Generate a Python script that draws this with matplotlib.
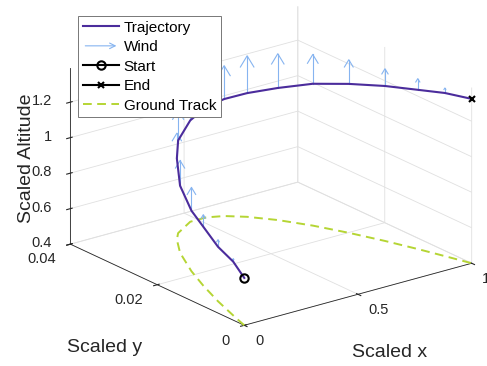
import matplotlib
matplotlib.use("Agg")
import matplotlib.pyplot as plt
import numpy as np
from matplotlib.lines import Line2D
from matplotlib.patches import FancyArrowPatch, Patch
from matplotlib.legend_handler import HandlerPatch
from matplotlib.ticker import FuncFormatter

plt.rcParams['font.family'] = ['Liberation Sans', 'DejaVu Sans']
plt.rcParams['grid.color'] = '#e0e0e0'
plt.rcParams['grid.linewidth'] = 0.6

# trajectory samples in scaled units
x_traj = [0.0, 0.028, 0.070, 0.122, 0.175, 0.253, 0.323, 0.365, 0.466, 0.536,
          0.594, 0.653, 0.719, 0.783, 0.840, 0.892, 0.935, 0.968, 1.0]
y_traj = [0.0, 0.0040, 0.0097, 0.0158, 0.0213, 0.0280, 0.0324, 0.0343, 0.0368, 0.0368,
          0.0357, 0.0335, 0.0299, 0.0252, 0.0199, 0.0143, 0.0090, 0.0045, 0.0]
z_traj = [0.667, 0.703, 0.707, 0.732, 0.741, 0.778, 0.857, 0.922, 0.971, 1.021,
          1.059, 1.097, 1.144, 1.199, 1.239, 1.273, 1.297, 1.319, 1.326]
# vertical wind component at each sample
wind_w = [0.0, 0.017, 0.040, 0.068, 0.131, 0.142, 0.142, 0.170, 0.182, 0.188,
          0.188, 0.210, 0.193, 0.165, 0.136, 0.097, 0.063, 0.028, 0.0]
ground_z = 0.4

x_ticks = [0, 0.5, 1]
y_ticks = [0, 0.02, 0.04]
z_ticks = [0.4, 0.6, 0.8, 1.0, 1.2]

traj_color = '#4b2c9c'
wind_color = '#86b4f0'
ground_color = '#b5d534'
ink = '#262626'

fig = plt.figure(figsize=(4.87, 3.66), dpi=100)
# square 3D axes, larger than the figure so nothing gets clipped
ax = fig.add_axes([0.043, -0.1364, 1.0, 1.3306], projection='3d', computed_zorder=False)
ax.set_proj_type('ortho')
ax.view_init(elev=20.9, azim=-127.4)
ax.set_box_aspect((1, 1, 0.657), zoom=0.89)

ax.set_xlim(0, 1)
ax.set_ylim(0, 0.04)
ax.set_zlim(0.4, 1.39)

# ground track projected on the floor
ax.plot(x_traj, y_traj, [ground_z] * len(x_traj), '--', color=ground_color,
        lw=1.4, dashes=(4.5, 2.8), zorder=1)

# wind arrows: shaft plus two head wings
head_dir = np.array([1.0, -0.03])
for xi, yi, zi, wi in zip(x_traj, y_traj, z_traj, wind_w):
    if wi <= 0:
        continue
    top = zi + wi
    hz = 0.3 * wi
    dx, dy = head_dir * 0.09 * wi
    ax.plot([xi, xi], [yi, yi], [zi, top], color=wind_color, lw=0.8, zorder=2)
    ax.plot([xi - dx, xi, xi + dx], [yi - dy, yi, yi + dy], [top - hz, top, top - hz],
            color=wind_color, lw=0.8, zorder=2)

ax.plot(x_traj, y_traj, z_traj, color=traj_color, lw=1.5, zorder=3)
ax.plot([x_traj[0]], [y_traj[0]], [z_traj[0]], 'o', color='black', mfc='none',
        ms=6, mew=1.5, zorder=4)
ax.plot([x_traj[-1]], [y_traj[-1]], [z_traj[-1]], 'x', color='black',
        ms=5, mew=1.5, zorder=4)

fmt = FuncFormatter(lambda v, _: f'{v:g}')
ax.set_xticks(x_ticks)
ax.set_yticks(y_ticks)
ax.set_zticks(z_ticks)
for axis in (ax.xaxis, ax.yaxis, ax.zaxis):
    axis.set_major_formatter(fmt)
    axis.set_pane_color((1, 1, 1, 0))
    axis.line.set_color(ink)
    axis.line.set_linewidth(0.6)
ax.tick_params(labelsize=10.5, colors=ink)

# tick label anchoring per axis
tick_style = {ax.xaxis: ('left', 'center', 3.2),
              ax.yaxis: ('right', 'center', 3.7),
              ax.zaxis: ('right', 'center', 0.4)}
for axis, (ha, va, pad) in tick_style.items():
    axis.set_tick_params(pad=pad)
    for t in axis.get_major_ticks():
        t.label1.set_ha(ha)
        t.label1.set_va(va)

fig.text(0.0550, 0.567, 'Scaled Altitude', rotation=90, ha='center', va='center',
         fontsize=14, color=ink)
fig.text(0.1376, 0.0383, 'Scaled y', ha='left', va='baseline', fontsize=14, color=ink)
fig.text(0.7228, 0.0246, 'Scaled x', ha='left', va='baseline', fontsize=14, color=ink)


def wind_icon(legend, orig_handle, xdescent, ydescent, width, height, fontsize):
    return FancyArrowPatch((0, height / 2), (width, height / 2), arrowstyle='->',
                           mutation_scale=10, color=wind_color, lw=0.8)


wind_proxy = Patch(facecolor='none', edgecolor=wind_color, lw=0.8)
handles = [
    Line2D([], [], color=traj_color, lw=1.5),
    wind_proxy,
    Line2D([], [], color='black', marker='o', mfc='none', ms=6, mew=1.5, lw=1.5),
    Line2D([], [], color='black', marker='x', ms=5, mew=1.5, lw=1.5),
    Line2D([], [], color=ground_color, ls='--', lw=1.4, dashes=(4.5, 2.8)),
]
labels = ['Trajectory', 'Wind', 'Start', 'End', 'Ground Track']
leg = fig.legend(handles, labels, loc='upper left', bbox_to_anchor=(0.16, 0.956),
                 borderaxespad=0, fontsize=11, fancybox=False, framealpha=1,
                 edgecolor='#777777', handlelength=2.4, handletextpad=0.3,
                 labelspacing=0.36, borderpad=0.3, numpoints=1,
                 handler_map={wind_proxy: HandlerPatch(patch_func=wind_icon)})
leg.get_frame().set_linewidth(0.7)

fig.savefig('out.png', dpi=100)
